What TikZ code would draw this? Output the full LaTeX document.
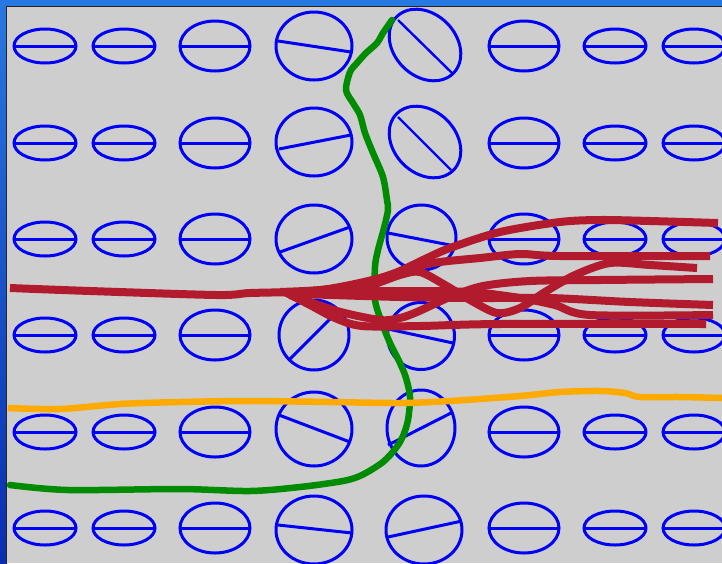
\documentclass[tikz,border=0pt]{standalone}
\definecolor{bgg}{RGB}{206,206,206}
\definecolor{ellblue}{RGB}{0,0,250}
\definecolor{grn}{RGB}{0,140,0}
\definecolor{org}{RGB}{255,170,0}
\definecolor{rd}{RGB}{178,27,46}
\definecolor{frtop}{RGB}{40,120,225}
\definecolor{frbot}{RGB}{10,45,175}
\tikzset{
  ell/.style={draw=ellblue, line width=3pt},
  diam/.style={draw=ellblue, line width=3pt},
  thindiam/.style={draw=ellblue, line width=2.4pt},
  greenline/.style={draw=grn, line width=6.5pt, line cap=round, line join=round},
  orangeline/.style={draw=org, line width=6.5pt, line cap=butt, line join=round},
  redline/.style={draw=rd, line width=8pt, line cap=butt, line join=round},
}
\begin{document}
\begin{tikzpicture}[x=1pt,y=-1pt]
\useasboundingbox (0,0) rectangle (722,563);
% frame
\fill[frtop] (0,0) rectangle (722,7);
\shade[top color=frtop, bottom color=frbot] (0,0) rectangle (7,563);
\fill[bgg] (7,7) rectangle (722,563);
\draw[black!85, line width=1pt] (6.5,563) -- (6.5,6.5) -- (722,6.5);

% regular columns
\foreach \cx/\rx/\ry in {45/31/17, 124/31/17, 215/35/25, 524/35/25, 615/31/17, 694/31/17}{
  \foreach \cy in {46,143,239,335,432,528}{
    \draw[ell] (\cx,\cy) ellipse [x radius=\rx, y radius=\ry];
    \draw[diam] (\cx-\rx,\cy) -- (\cx+\rx,\cy);
  }
}

% column 4
\foreach \cy/\rx/\ry/\xa/\ya/\xb/\yb in {
  46/38/34/278/41/351/52,
  142/38/34/279/149/351/135,
  239/38/34/280/252/350/227,
  335/35/35/289/360/339/310,
  429/38/37/279/415/350/442,
  530/38/34/278/525/352/533}{
  \draw[ell] (314,\cy) ellipse [x radius=\rx, y radius=\ry];
  \draw[diam] (\xa,\ya) -- (\xb,\yb);
}

% column 5
\draw[ell] (425,45) ellipse [x radius=40, y radius=31, rotate=-45];
\draw[thindiam] (398,20) -- (452,73);
\draw[ell] (425,142) ellipse [x radius=40, y radius=31, rotate=-45];
\draw[thindiam] (398,117) -- (451,170);
\foreach \cx/\cy/\rx/\ry/\xa/\ya/\xb/\yb in {
  421.5/237.5/34.5/32.5/388/233/455/246,
  421/336/33.5/33.5/388/329/453/343,
  421/428/34/38/388/445/453/412,
  424/530/38/34/388/537/462/521}{
  \draw[ell] (\cx,\cy) ellipse [x radius=\rx, y radius=\ry];
  \draw[diam] (\xa,\ya) -- (\xb,\yb);
}

% green curve
\draw[greenline] plot[smooth, tension=0.5] coordinates {
  (392,20) (383,33) (377,43) (366,53) (357,63) (350,72) (346,90) (353,103)
  (360,115) (365,133) (373,153) (383,177) (387,200) (388,210) (384,228)
  (378,250) (375,267) (375,300) (382,323) (390,343) (400,363) (406,378)
  (410,397) (408,420) (403,436) (396,448) (383,462) (362,475) (343,481)
  (300,487) (250,491) (180,489) (68,490) (10,485)};

% orange curve
\draw[orangeline] plot[smooth, tension=0.5] coordinates {
  (8,408) (60,409) (120,404) (180,402) (250,401) (330,402) (400,403)
  (450,401) (520,396) (560,392) (600,391) (625,393) (640,397) (680,397) (722,398)};

% red strands
\draw[redline] plot[smooth, tension=0.5] coordinates {
  (10,288) (90,291) (217,295) (250,293) (300,292)};
\draw[redline] plot[smooth, tension=0.5] coordinates {
  (280,292) (320,290) (350,285) (380,278) (400,271) (425,259) (450,248)
  (500,232) (560,222) (600,220) (650,221) (718,223)};
\draw[redline] plot[smooth, tension=0.5] coordinates {
  (300,292) (350,287) (380,280) (410,268) (440,262) (480,258) (520,254)
  (560,256) (710,256)};
\draw[redline] plot[smooth, tension=0.5] coordinates {
  (300,292) (360,288) (400,275) (420,272) (445,285) (470,300) (497,313)
  (520,308) (545,292) (575,275) (610,263) (650,265) (697,268)};
\draw[redline] plot[smooth, tension=0.5] coordinates {
  (290,295) (337,311) (380,320) (400,318) (417,312) (450,297) (483,286)
  (530,281) (600,280) (713,279)};
\draw[redline] plot[smooth, tension=0.5] coordinates {
  (300,294) (400,297) (480,298) (550,298) (630,302) (713,305)};
\draw[redline] plot[smooth, tension=0.5] coordinates {
  (320,292) (400,291) (470,292) (520,298) (555,305) (590,315) (713,315)};
\draw[redline] plot[smooth, tension=0.5] coordinates {
  (285,292) (310,305) (335,318) (362,326) (420,326) (500,324) (706,324)};
\end{tikzpicture}
\end{document}
